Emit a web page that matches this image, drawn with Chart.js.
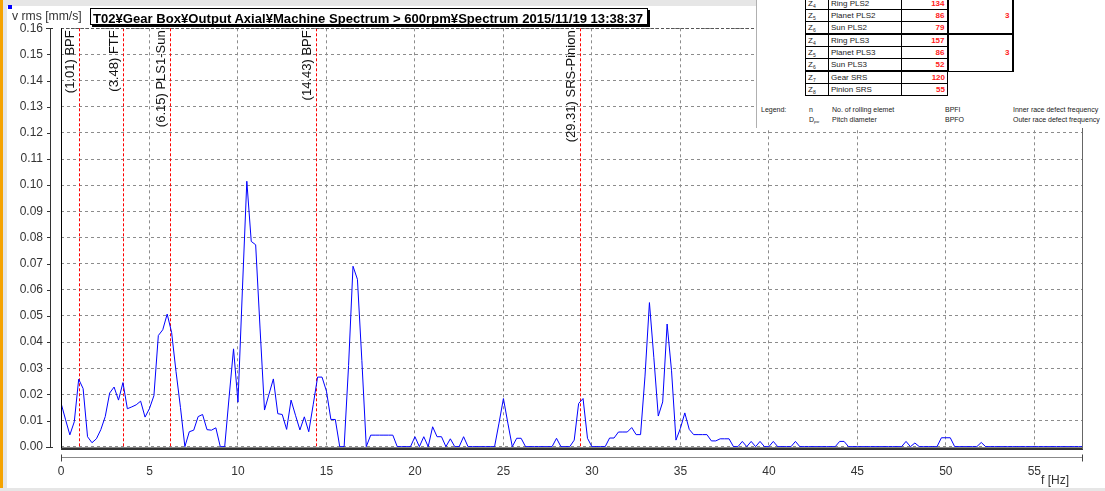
<!DOCTYPE html>
<html>
<head>
<meta charset="utf-8">
<script src="https://cdn.jsdelivr.net/npm/chart.js@4.4.1/dist/chart.umd.min.js"></script>
<style>
  html, body { margin: 0; padding: 0; }
  body { width: 1105px; height: 491px; position: relative; overflow: hidden; background: #e6e6e6; font-family: 'Liberation Sans', Arial, sans-serif; }
  #panel { position: absolute; left: 7px; top: 6px; width: 1098px; height: 482px; background: #fff; }
  #edge { position: absolute; left: 0; top: 0; width: 3px; height: 488px; background: #f5a300; }
  #blueMark { position: absolute; left: 8px; top: 5px; width: 4px; height: 4px; background: #0000ff; }
  canvas { position: absolute; left: 0; top: 0; }
  #ylabel { position: absolute; left: 12px; top: 9px; font-size: 12.2px; color: #333; white-space: nowrap; }
  #title { position: absolute; left: 90px; top: 8px; height: 15px; border: 1px solid #000; box-shadow: 2px 2px 0 #000; background: #fff; white-space: nowrap; overflow: hidden; }
  #title span { display: inline-block; transform-origin: 0 0; font: bold 13px 'Liberation Sans', Arial, sans-serif; line-height: 15px; padding-left: 2px; }
  #sheet { position: absolute; left: 756px; top: 0; width: 349px; height: 128px; background: #fff; border-left: 1px solid #b0b0b0; overflow: hidden; }
  #sheet table { position: absolute; left: 48px; top: -3px; border-collapse: collapse; table-layout: fixed; font-size: 8px; color: #222; }
  #sheet td { border: 1px solid #000; height: 11px; line-height: 11px; padding: 0 2px; overflow: hidden; white-space: nowrap; }
  #sheet td sub { font-size: 5px; line-height: 0; vertical-align: baseline; position: relative; top: 2px; }
  #sheet td.num { text-align: right; color: #ff2020; font-weight: bold; }
  #sheet tr.grp td { border-top: 2px solid #000; }
  #sheet .leg { position: absolute; font-size: 7px; line-height: 8px; color: #222; white-space: nowrap; }
  #sheet .leg sub { font-size: 4px; line-height: 0; vertical-align: baseline; position: relative; top: 1px; }
</style>
</head>
<body>
<div id="edge"></div>
<div id="panel"></div>
<canvas id="spec" width="1105" height="491"></canvas>
<div id="blueMark"></div>
<div id="ylabel">v rms [mm/s]</div>
<div id="title"><span id="titleText"></span></div>
<div id="sheet"></div>
<script>
// spectrum, 0.25 Hz per line, v rms in mm/s
const freqStep = 0.25;
const vrms = [
  0.0167, 0.0105, 0.0045, 0.0095, 0.0258, 0.0222, 0.0038, 0.0015, 0.0030, 0.0065, 0.0115, 0.0205, 0.0228, 0.0178, 0.0245, 0.0145, 0.0152, 0.0160, 0.0174, 0.0113,
  0.0146, 0.0195, 0.0425, 0.0447, 0.0507, 0.0437, 0.0287, 0.0150, 0.0000, 0.0057, 0.0063, 0.0115, 0.0123, 0.0065, 0.0063, 0.0072, 0.0000, 0.0000, 0.0190, 0.0374,
  0.0170, 0.0600, 0.1015, 0.0785, 0.0772, 0.0450, 0.0140, 0.0200, 0.0259, 0.0126, 0.0123, 0.0066, 0.0178, 0.0120, 0.0064, 0.0114, 0.0057, 0.0160, 0.0266, 0.0266,
  0.0212, 0.0104, 0.0104, 0.0000, 0.0000, 0.0310, 0.0690, 0.0640, 0.0330, 0.0000, 0.0044, 0.0044, 0.0044, 0.0044, 0.0044, 0.0044, 0.0000, 0.0000, 0.0000, 0.0000,
  0.0038, 0.0000, 0.0038, 0.0000, 0.0076, 0.0038, 0.0038, 0.0000, 0.0030, 0.0000, 0.0000, 0.0038, 0.0000, 0.0000, 0.0000, 0.0000, 0.0000, 0.0000, 0.0000, 0.0090,
  0.0184, 0.0090, 0.0000, 0.0032, 0.0032, 0.0000, 0.0000, 0.0000, 0.0000, 0.0000, 0.0000, 0.0000, 0.0032, 0.0000, 0.0000, 0.0000, 0.0025, 0.0165, 0.0184, 0.0032,
  0.0000, 0.0000, 0.0000, 0.0000, 0.0033, 0.0033, 0.0056, 0.0056, 0.0056, 0.0073, 0.0046, 0.0046, 0.0270, 0.0551, 0.0340, 0.0117, 0.0171, 0.0469, 0.0290, 0.0025,
  0.0070, 0.0129, 0.0066, 0.0046, 0.0046, 0.0046, 0.0046, 0.0022, 0.0022, 0.0030, 0.0030, 0.0030, 0.0000, 0.0000, 0.0020, 0.0000, 0.0020, 0.0000, 0.0020, 0.0000,
  0.0000, 0.0020, 0.0000, 0.0000, 0.0000, 0.0000, 0.0020, 0.0000, 0.0000, 0.0000, 0.0000, 0.0000, 0.0000, 0.0000, 0.0000, 0.0000, 0.0020, 0.0020, 0.0000, 0.0000,
  0.0000, 0.0000, 0.0000, 0.0000, 0.0000, 0.0000, 0.0000, 0.0000, 0.0000, 0.0000, 0.0000, 0.0020, 0.0000, 0.0014, 0.0000, 0.0000, 0.0000, 0.0000, 0.0000, 0.0034,
  0.0034, 0.0034, 0.0000, 0.0000, 0.0000, 0.0000, 0.0000, 0.0000, 0.0016, 0.0000, 0.0000, 0.0000, 0.0000, 0.0000, 0.0000, 0.0000, 0.0000, 0.0000, 0.0000, 0.0000,
  0.0000, 0.0000, 0.0000, 0.0000, 0.0000, 0.0000, 0.0000, 0.0000, 0.0000, 0.0000, 0.0000, 0.0000
];
const xTicks = [0, 5, 10, 15, 20, 25, 30, 35, 40, 45, 50, 55];
const yTicks = [0, 0.01, 0.02, 0.03, 0.04, 0.05, 0.06, 0.07, 0.08, 0.09, 0.10, 0.11, 0.12, 0.13, 0.14, 0.15, 0.16];

// defect frequency markers
const markerFreqs = [1.01, 3.48, 6.15, 14.43, 29.31];
const markerNames = ['BPF', 'FTF', 'PLS1-Sun', 'BPF', 'SRS-Pinion'];

const titleText = 'T02¥Gear Box¥Output Axial¥Machine Spectrum > 600rpm¥Spectrum 2015/11/19 13:38:37';

// gear table pasted in the upper right
const gearSym = ['4', '5', '6', '4', '5', '6', '7', '8'];
const gearNames = ['Ring PLS2', 'Planet PLS2', 'Sun PLS2', 'Ring PLS3', 'Planet PLS3', 'Sun PLS3', 'Gear SRS', 'Pinion SRS'];
const gearTeeth = [134, 86, 79, 157, 86, 52, 120, 55];
const planetCount = [3, 3];

Chart.defaults.font.family = "'Liberation Sans', Arial, sans-serif";

const points = vrms.map((v, i) => ({ x: i * freqStep, y: v }));

const markers = {
  id: 'markers',
  beforeDatasetsDraw(chart) {
    const { ctx, chartArea: a, scales: { x } } = chart;
    ctx.save();
    markerFreqs.forEach((f, i) => {
      const px = Math.round(x.getPixelForValue(f)) + 0.5;
      ctx.strokeStyle = '#ff0000';
      ctx.lineWidth = 1;
      ctx.setLineDash([3, 2]);
      ctx.beginPath();
      ctx.moveTo(px, a.top);
      ctx.lineTo(px, a.bottom);
      ctx.stroke();
      ctx.save();
      ctx.translate(px - 2.5, a.top + 2);
      ctx.rotate(-Math.PI / 2);
      ctx.fillStyle = '#111';
      ctx.font = "13px 'Liberation Sans', Arial, sans-serif";
      ctx.textAlign = 'right';
      ctx.textBaseline = 'bottom';
      ctx.fillText('(' + f.toFixed(2) + ') ' + markerNames[i], 0, 0);
      ctx.restore();
    });
    ctx.restore();
  }
};

const frame = {
  id: 'frame',
  afterDatasetsDraw(chart) {
    const { ctx, chartArea: a, scales: { x, y } } = chart;
    const y0 = Math.round(y.getPixelForValue(0)) + 0.5;
    const yTop = Math.round(y.getPixelForValue(0.16)) + 0.5;
    ctx.save();
    ctx.lineWidth = 1;
    // zero line
    ctx.strokeStyle = '#8a8a8a';
    ctx.beginPath(); ctx.moveTo(a.left, y0); ctx.lineTo(a.right, y0); ctx.stroke();
    // top line, darker dashes
    ctx.setLineDash([3, 2]);
    ctx.strokeStyle = '#555';
    ctx.beginPath(); ctx.moveTo(a.left, yTop); ctx.lineTo(a.right, yTop); ctx.stroke();
    ctx.setLineDash([]);
    // left / bottom / right borders
    ctx.strokeStyle = '#000';
    ctx.beginPath(); ctx.moveTo(a.left + 0.5, a.top); ctx.lineTo(a.left + 0.5, a.bottom); ctx.stroke();
    ctx.strokeStyle = '#333';
    ctx.lineWidth = 2;
    ctx.beginPath(); ctx.moveTo(a.left, a.bottom); ctx.lineTo(a.right, a.bottom); ctx.stroke();
    ctx.lineWidth = 1;
    ctx.strokeStyle = '#666';
    ctx.beginPath(); ctx.moveTo(a.right - 0.5, a.top); ctx.lineTo(a.right - 0.5, a.bottom); ctx.stroke();
    // y ruler
    ctx.strokeStyle = '#333';
    ctx.beginPath(); ctx.moveTo(50.5, yTop); ctx.lineTo(50.5, y0); ctx.stroke();
    yTicks.forEach((v, i) => {
      const py = Math.round(y.getPixelForValue(v)) + 0.5;
      const end = (i === 0 || i === yTicks.length - 1);
      ctx.beginPath(); ctx.moveTo(end ? 46 : 47, py); ctx.lineTo(end ? 53 : 51, py); ctx.stroke();
    });
    // x ruler
    const rY = 457.5;
    ctx.strokeStyle = '#888';
    ctx.beginPath(); ctx.moveTo(a.left, rY); ctx.lineTo(a.right, rY); ctx.stroke();
    ctx.strokeStyle = '#444';
    ctx.beginPath(); ctx.moveTo(a.left + 0.5, rY - 3); ctx.lineTo(a.left + 0.5, rY + 4); ctx.stroke();
    ctx.beginPath(); ctx.moveTo(a.right - 0.5, rY - 3); ctx.lineTo(a.right - 0.5, rY + 4); ctx.stroke();
    // unit
    ctx.fillStyle = '#333';
    ctx.font = "12px 'Liberation Sans', Arial, sans-serif";
    ctx.textAlign = 'left';
    ctx.textBaseline = 'middle';
    ctx.fillText('f [Hz]', 1041, 481);
    ctx.restore();
  }
};

new Chart(document.getElementById('spec'), {
  type: 'line',
  data: {
    datasets: [{
      data: points,
      borderColor: '#0000ff',
      borderWidth: 1,
      pointRadius: 0,
      tension: 0,
      fill: false
    }]
  },
  options: {
    responsive: false,
    animation: false,
    devicePixelRatio: 1,
    layout: { padding: { left: 0, top: 28.3, right: 22, bottom: 0 } },
    plugins: { legend: { display: false }, tooltip: { enabled: false } },
    scales: {
      x: {
        type: 'linear',
        min: 0,
        max: 57.75,
        afterBuildTicks: s => { s.ticks = xTicks.map(v => ({ value: v })); },
        afterFit: s => { s.height = 42; },
        grid: { color: '#8c8c8c', drawTicks: false },
        border: { display: false, dash: [3, 3] },
        ticks: { padding: 15, color: '#333', font: { size: 12 }, autoSkip: false, maxRotation: 0 }
      },
      y: {
        min: -0.0009,
        max: 0.16,
        afterBuildTicks: s => { s.ticks = yTicks.map(v => ({ value: v })); },
        afterFit: s => { s.width = 61; },
        grid: { color: '#8c8c8c', drawTicks: false },
        border: { display: false, dash: [3, 3] },
        ticks: { padding: 18, color: '#333', font: { size: 12 }, callback: v => v.toFixed(2) }
      }
    }
  },
  plugins: [markers, frame]
});

// title, squeezed to the width of the original box
const tspan = document.getElementById('titleText');
tspan.textContent = titleText;
const tw = tspan.getBoundingClientRect().width;
tspan.style.transform = 'scaleX(' + (552 / tw) + ')';
document.getElementById('title').style.width = '556px';

// gear table
const sheet = document.getElementById('sheet');
const table = document.createElement('table');
const colW = [23, 73, 46, 65];
const cg = document.createElement('colgroup');
colW.forEach(w => { const c = document.createElement('col'); c.style.width = w + 'px'; cg.appendChild(c); });
table.appendChild(cg);
gearNames.forEach((name, i) => {
  const tr = document.createElement('tr');
  if (i === 3 || i === 6) tr.className = 'grp';
  const z = document.createElement('td');
  z.innerHTML = 'Z<sub>' + gearSym[i] + '</sub>';
  const n = document.createElement('td');
  n.textContent = name;
  const t = document.createElement('td');
  t.className = 'num';
  t.textContent = gearTeeth[i];
  tr.appendChild(z); tr.appendChild(n); tr.appendChild(t);
  if (i === 0 || i === 3) {
    const p = document.createElement('td');
    p.rowSpan = 3;
    p.className = 'num';
    p.style.borderLeft = '2px solid #000';
    p.style.borderRight = '2px solid #000';
    p.textContent = planetCount[i === 0 ? 0 : 1];
    tr.appendChild(p);
  }
  table.appendChild(tr);
});
sheet.appendChild(table);

const legendRows = [
  ['Legend:', 'n', 'No. of rolling elemet', 'BPFI', 'Inner race defect frequency'],
  ['', 'D<sub>pw</sub>', 'Pitch diameter', 'BPFO', 'Outer race defect frequency']
];
const legendX = [4, 52, 75, 188, 256];
legendRows.forEach((row, r) => {
  row.forEach((txt, c) => {
    const d = document.createElement('div');
    d.className = 'leg';
    d.style.left = legendX[c] + 'px';
    d.style.top = (106 + r * 10) + 'px';
    d.innerHTML = txt;
    sheet.appendChild(d);
  });
});
</script>
</body>
</html>
